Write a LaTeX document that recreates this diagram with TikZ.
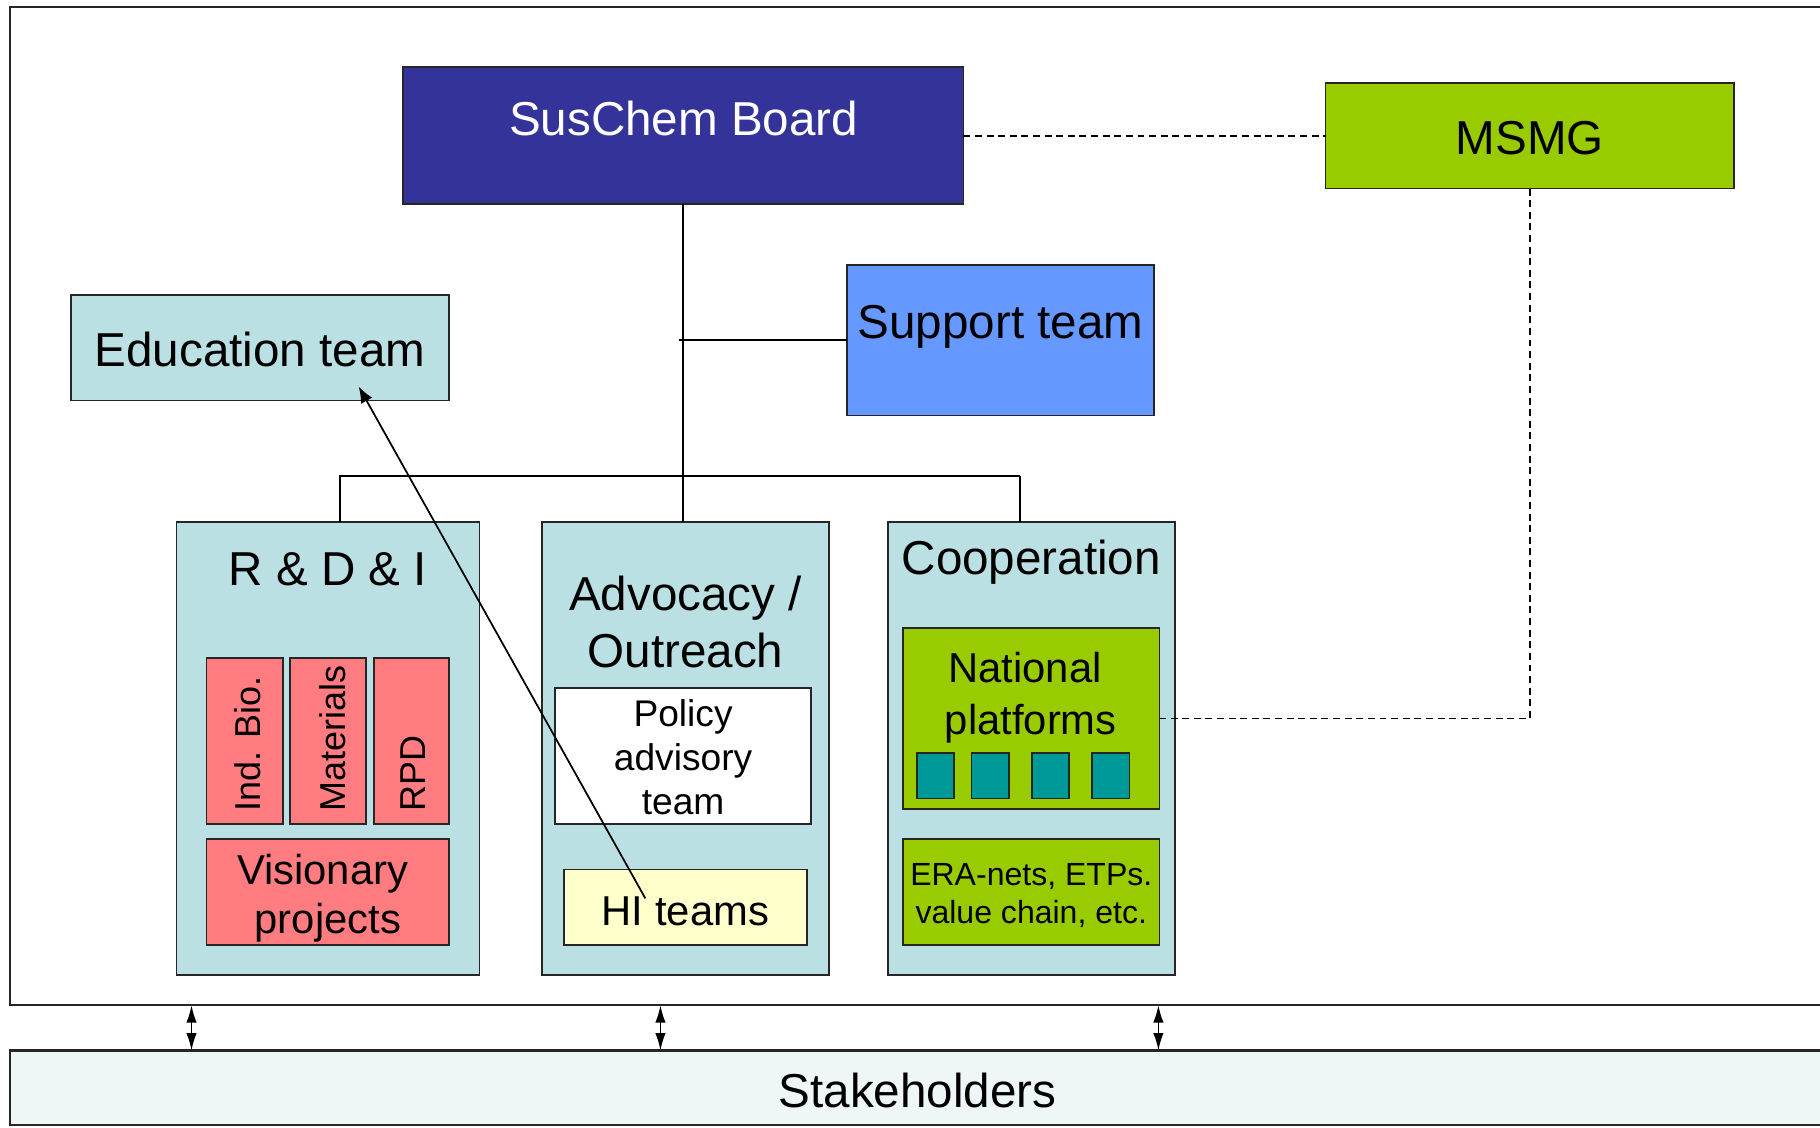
\documentclass[tikz,border=0pt]{standalone}
\usepackage{fontspec}
\setmainfont{Liberation Sans}
\usetikzlibrary{arrows.meta}
\definecolor{boardc}{HTML}{333399}
\definecolor{limec}{HTML}{99CC00}
\definecolor{supportc}{HTML}{6699FF}
\definecolor{tealbg}{HTML}{BBE0E3}
\definecolor{salmonc}{HTML}{FF7C80}
\definecolor{hic}{HTML}{FFFFCC}
\definecolor{sqc}{HTML}{009999}
\definecolor{stakec}{HTML}{EEF6F7}
\begin{document}
\begin{tikzpicture}[x=0.5pt,y=-0.5pt,
  box/.style={draw=black!85, line width=0.75pt, inner sep=0pt, outer sep=0pt, rectangle},
  lbl/.style={anchor=base, inner sep=0pt, outer sep=0pt},
  big/.style={font=\fontsize{20.5}{24.5}\selectfont},
  mid/.style={font=\fontsize{18}{22}\selectfont},
  conn/.style={draw=black, line width=0.75pt},
  dashconn/.style={draw=black, line width=0.75pt, dash pattern=on 3pt off 2pt},
  dblarrow/.style={draw=black, line width=0.75pt, {Latex[length=7.5pt,width=4.5pt]}-{Latex[length=7.5pt,width=4.5pt]}},
  rot/.style={anchor=base west, rotate=90, inner sep=0pt, outer sep=0pt, font=\fontsize{15.5}{18}\selectfont}
]
\clip (0,0) rectangle (1568,971);
\fill[white] (0,0) rectangle (1568,971);

% outer frame and stakeholders
\node[box, line width=0.9pt, fill=white, minimum width=781.5pt, minimum height=430pt] (frame) at (790.5,436) {};
\node[box, line width=0.9pt, fill=stakec, minimum width=781.5pt, minimum height=32pt] (stake) at (790.5,937) {};
\node[lbl, big] (stakeT) at (790.5,954) {Stakeholders};

% top boxes
\node[box, fill=boardc, minimum width=241.5pt, minimum height=59pt] (board) at (588.5,117) {};
\node[lbl, big, text=white] (boardT) at (589,117) {SusChem Board};
\node[box, fill=limec, minimum width=176pt, minimum height=45.5pt] (msmg) at (1318,117) {};
\node[lbl, big] (msmgT) at (1318,133) {MSMG};
\node[box, fill=supportc, minimum width=132pt, minimum height=65pt] (support) at (862,293) {};
\node[lbl, big] (supportT) at (862,292) {Support team};
\node[box, fill=tealbg, minimum width=163pt, minimum height=45.5pt] (edu) at (224,299.5) {};
\node[lbl, big] (eduT) at (224,316) {Education team};

% column boxes
\node[box, fill=tealbg, minimum width=130.5pt, minimum height=195pt] (rdi) at (282.5,645) {};
\node[lbl, big] (rdiT) at (282.5,504) {R \& D \& I};
\node[box, fill=tealbg, minimum width=123.5pt, minimum height=195pt] (adv) at (590.5,645) {};
\node[lbl, big] (advT1) at (590.5,526) {Advocacy /};
\node[lbl, big] (advT2) at (590.5,575) {Outreach};
\node[box, fill=tealbg, minimum width=123.5pt, minimum height=195pt] (coop) at (888.5,645) {};
\node[lbl, big] (coopT) at (888.5,495) {Cooperation};

% R&D&I contents
\node[box, fill=salmonc, minimum width=33pt, minimum height=71.5pt] (ind) at (211,638.5) {};
\node[rot] (indT) at (224.5,699.5) {Ind. Bio.};
\node[box, fill=salmonc, minimum width=32.5pt, minimum height=71.5pt] (mat) at (282.5,638.5) {};
\node[rot] (matT) at (297.5,699.5) {Materials};
\node[box, fill=salmonc, minimum width=32.5pt, minimum height=71.5pt] (rpd) at (354.5,638.5) {};
\node[rot] (rpdT) at (367,699.5) {RPD};
\node[box, fill=salmonc, minimum width=104.5pt, minimum height=45.5pt] (vis) at (282.5,768.5) {};
\node[lbl, mid] (visT1) at (278,762) {Visionary};
\node[lbl, mid] (visT2) at (282.5,804) {projects};

% Advocacy contents
\node[box, fill=white, minimum width=110.5pt, minimum height=58.5pt] (pol) at (588.5,651.5) {};
\node[lbl, font=\fontsize{16}{19}\selectfont] (polT1) at (588.5,626) {Policy};
\node[lbl, font=\fontsize{16}{19}\selectfont] (polT2) at (588.5,664) {advisory};
\node[lbl, font=\fontsize{16}{19}\selectfont] (polT3) at (588.5,702) {team};
\node[box, fill=hic, minimum width=104.5pt, minimum height=32.5pt] (hi) at (590.5,781.5) {};
\node[lbl, mid] (hiT) at (590.5,797) {HI teams};

% Cooperation contents
\node[box, fill=limec, minimum width=110.5pt, minimum height=78pt] (nat) at (888.5,619) {};
\node[lbl, mid] (natT1) at (883,588) {National};
\node[lbl, mid] (natT2) at (888,633) {platforms};
\node[box, fill=sqc, minimum width=16pt, minimum height=19.5pt] (sq1) at (806,668.5) {};
\node[box, fill=sqc, minimum width=16pt, minimum height=19.5pt] (sq2) at (853,668.5) {};
\node[box, fill=sqc, minimum width=16pt, minimum height=19.5pt] (sq3) at (905,668.5) {};
\node[box, fill=sqc, minimum width=16pt, minimum height=19.5pt] (sq4) at (957,668.5) {};
\node[box, fill=limec, minimum width=110.5pt, minimum height=45.5pt] (era) at (888.5,768.5) {};
\node[lbl, font=\fontsize{13.8}{17}\selectfont] (eraT1) at (888.5,763) {ERA-nets, ETPs.};
\node[lbl, font=\fontsize{13.8}{17}\selectfont] (eraT2) at (888.5,796) {value chain, etc.};

% connectors
\coordinate (busL) at (292,410);
\coordinate (busR) at (879,410);
\coordinate (busA) at (293,410);
\coordinate (sj) at (585,293);
\draw[conn] (board.south) -- (board.south |- adv.north);
\draw[conn] (busL) -- (busR);
\draw[conn] (busA) -- (busA |- rdi.north);
\draw[conn] (busR) -- (busR |- coop.north);
\draw[conn] (sj) -- (support.west);
\draw[dashconn] (board.east) -- (msmg.west);
\draw[dashconn] (msmg.south) |- (nat.east);

% education arrow
\coordinate (hiP) at (556,774);
\coordinate (eduP) at (309,333);
\draw[conn, -{Latex[length=7pt,width=5.5pt]}] (hiP) -- (eduP);

% stakeholder arrows
\coordinate (a1) at (165,0);
\coordinate (a2) at (569,0);
\coordinate (a3) at (998,0);
\draw[dblarrow] (a1 |- frame.south) -- (a1 |- stake.north);
\draw[dblarrow] (a2 |- frame.south) -- (a2 |- stake.north);
\draw[dblarrow] (a3 |- frame.south) -- (a3 |- stake.north);
\end{tikzpicture}
\end{document}
